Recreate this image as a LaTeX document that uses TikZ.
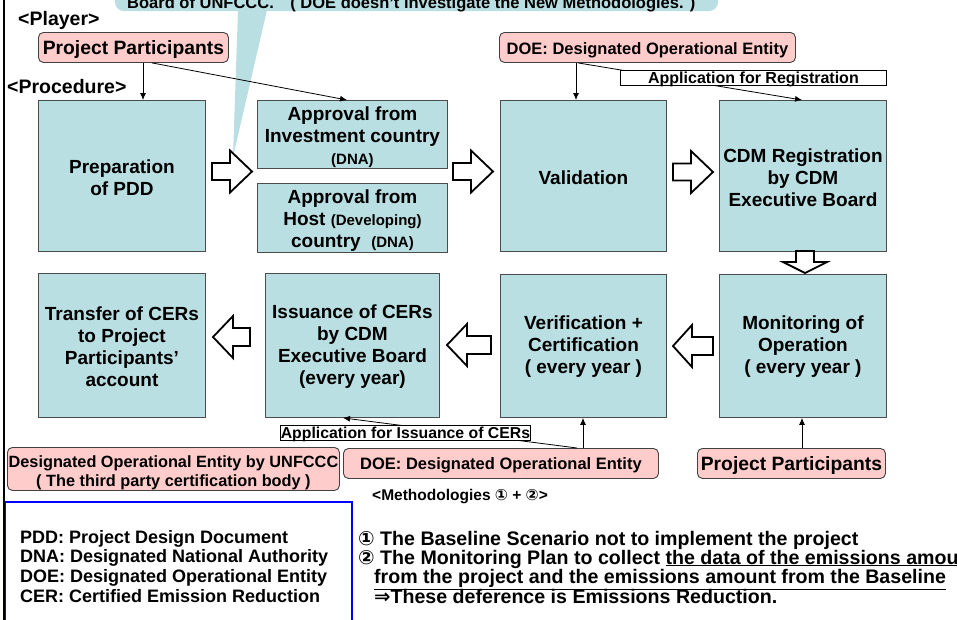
\documentclass[tikz,border=0pt]{standalone}
\usepackage{fontspec}
\setmainfont{Liberation Sans}
\newfontfamily\dvfont{DejaVu Sans}
\usetikzlibrary{calc,arrows.meta}
\definecolor{procfill}{RGB}{186,223,226}
\definecolor{playerfill}{RGB}{255,204,204}
\newcommand\fsz[2]{\fontsize{#1}{#2}\selectfont}
\newcommand\strt[1]{\rule{0pt}{#1pt}}
\newcommand\blkright[3]{\draw[blk] (#1) ++(0,-8.5) -- ++(#2,0) -- ++(0,-12.5) -- ++(#3,21) -- ++(-#3,21) -- ++(0,-12.5) -- ++(-#2,0) -- cycle;}
\newcommand\blkleft[3]{\draw[blk] (#1) ++(0,-9) -- ++(-#2,0) -- ++(0,-12) -- ++(-#3,21) -- ++(#3,21) -- ++(0,-12) -- ++(#2,0) -- cycle;}
\begin{document}
\begin{tikzpicture}[x=1pt,y=-1pt,
  proc/.style={draw=black!70, line width=0.9pt, fill=procfill, align=center, inner sep=0pt, anchor=north west, font=\bfseries\fsz{19}{22}},
  player/.style={draw=black!75, line width=0.9pt, fill=playerfill, rounded corners=5pt, align=center, inner sep=0pt, anchor=north west, font=\bfseries\fsz{16.5}{19}},
  applabel/.style={draw=black, line width=0.9pt, fill=white, inner sep=0pt, anchor=north west, text height=12pt, text depth=0pt, font=\bfseries\fsz{16}{16}},
  conn/.style={draw=black, line width=0.8pt, -{Latex[length=7pt,width=6pt]}},
  blk/.style={draw=black, line width=1.8pt, fill=white, line join=miter},
  heading/.style={inner sep=0pt, anchor=base west, font=\bfseries\fsz{19.5}{19.5}},
  note/.style={inner sep=0pt, anchor=base west, font=\bfseries\fsz{18}{18}},
  meth/.style={inner sep=0pt, anchor=base west, font=\bfseries\fsz{19.6}{19.6}}
]
\useasboundingbox (0,0) rectangle (957,619);

% callout
\fill[procfill, rounded corners=9pt] (115,-40) rectangle (718,11);
\fill[procfill] (238,10) -- (267,10) -- (233,157) -- cycle;
\node[inner sep=0pt, anchor=base west, font=\bfseries\fsz{16.5}{16.5}] (callout) at (127,8.5) {Board of UNFCCC.\quad ( DOE doesn’t investigate the New Methodologies. )};

% frame lines
\draw[blue, line width=2pt] (5,502) rectangle (352,640);
\draw[line width=2pt] (4,-2) -- (4,621);

% headings
\node[heading] (player) at (18,25) {<Player>};
\node[heading] (procedure) at (7,93) {<Procedure>};

% procedure boxes
\node[proc, minimum width=167pt, minimum height=151pt] (prep) at (38,100) {\strt{17.6}Preparation\\of PDD};
\node[proc, minimum width=190pt, minimum height=68pt] (inv) at (257,100) {\strt{19.5}Approval from\\Investment country\\{\fsz{15}{15}(DNA)}};
\node[proc, minimum width=190pt, minimum height=69pt] (host) at (257,183) {\strt{19.5}Approval from\\Host {\fsz{15}{15}(Developing)}\\country\ \ {\fsz{15}{15}(DNA)}};
\node[proc, minimum width=166pt, minimum height=151pt] (valid) at (500,100) {\strt{17.6}Validation};
\node[proc, minimum width=167pt, minimum height=151pt] (reg) at (719,100) {\strt{17.6}CDM Registration\\by CDM\\Executive Board};
\node[proc, minimum width=167pt, minimum height=144pt] (trans) at (38,273) {\strt{15.6}Transfer of CERs\\to Project\\Participants’\\account};
\node[proc, minimum width=174pt, minimum height=144pt] (iss) at (265,273) {\strt{15.6}Issuance of CERs\\by CDM\\Executive Board\\(every year)};
\node[proc, minimum width=166pt, minimum height=143pt] (verif) at (500,274) {\strt{15.6}Verification +\\Certification\\( every year )};
\node[proc, minimum width=167pt, minimum height=143pt] (mon) at (719,274) {\strt{15.6}Monitoring of\\Operation\\( every year )};

% players
\node[player, minimum width=190pt, minimum height=30pt, font=\bfseries\fsz{19.3}{19.3}] (pp1) at (38,32) {\strt{18}Project Participants};
\node[player, minimum width=296pt, minimum height=30pt] (doe1) at (499,32) {\strt{17}DOE: Designated Operational Entity};
\node[player, minimum width=332pt, minimum height=43pt, font=\bfseries\fsz{16.3}{19}] (doeun) at (7,447) {\strt{20}Designated Operational Entity by UNFCCC\\( The third party certification body )};
\node[player, minimum width=315pt, minimum height=30pt] (doe2) at (343,448) {\strt{16}DOE: Designated Operational Entity};
\node[player, minimum width=188pt, minimum height=30pt, font=\bfseries\fsz{19.3}{19.3}] (pp2) at (697,448) {\strt{18.6}Project Participants};

% connectors
\draw[conn] (pp1.south -| 143,0) -- (prep.north -| 143,0);
\draw[conn] (pp1.south -| 152,0) -- (inv.north -| 347,0);
\draw[conn] (doe1.south -| 576,0) -- (valid.north -| 576,0);
\draw[conn] (doe1.south -| 578,0) -- (reg.north -| 802,0);
\node[applabel, minimum width=266pt, minimum height=15pt] (appreg) at (620,70) {Application for Registration};
\draw[conn] (doe2.north -| 583,0) -- (verif.south -| 583,0);
\draw[conn] (doe2.north -| 577,0) -- (iss.south -| 343,0);
\node[applabel, minimum width=250pt, minimum height=15pt, font=\bfseries\fsz{15.8}{15.8}] (appiss) at (280,425) {Application for Issuance of CERs};
\draw[conn] (pp2.north -| 802,0) -- (mon.south -| 802,0);

% block arrows
\coordinate (ba1) at (212,171.5);
\coordinate (ba2) at (453,171.5);
\coordinate (ba3) at (673,172);
\coordinate (bd1) at (805,251);
\coordinate (bl1) at (713,346);
\coordinate (bl2) at (491,345);
\coordinate (bl3) at (250,337);
\blkright{ba1}{18}{22}
\blkright{ba2}{18}{22}
\blkright{ba3}{18}{22}
\draw[blk] (bd1) ++(-9,0) -- ++(0,11) -- ++(-13,0) -- ++(22,11) -- ++(22,-11) -- ++(-13,0) -- ++(0,-11) -- cycle;
\blkleft{bl1}{21}{19}
\blkleft{bl2}{24}{20}
\blkleft{bl3}{17}{20}

% abbreviations
\node[note] (abbr1) at (20,543.5) {PDD: Project Design Document};
\node[note] (abbr2) at (20,562.5) {DNA: Designated National Authority};
\node[note] (abbr3) at (20,582.5) {DOE: Designated Operational Entity};
\node[note] (abbr4) at (20,602.5) {CER: Certified Emission Reduction};

% methodologies
\node[inner sep=0pt, anchor=base west, font=\bfseries\fsz{15.5}{15.5}] (methh) at (372,500) {<Methodologies {\dvfont ①} + {\dvfont ②}>};
\node[meth] (m1) at (358,545.5) {{\dvfont ①} The Baseline Scenario not to implement the project};
\node[meth] (m2) at (358,564) {{\dvfont ②} The Monitoring Plan to collect \underline{the data of the emissions amount}};
\node[meth] (m3) at (374,583.5) {\underline{from the project and the emissions amount from the Baseline}};
\node[meth] (m4) at (374,603.5) {{\dvfont ⇒}These deference is Emissions Reduction.};
\end{tikzpicture}
\end{document}
